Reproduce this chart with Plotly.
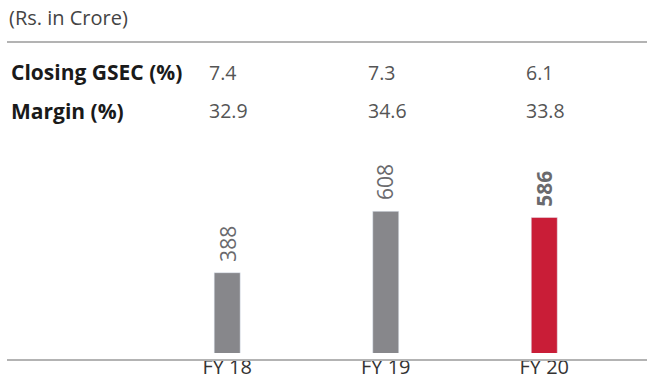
import plotly.graph_objects as go

categories = ["FY 18", "FY 19", "FY 20"]
values = [388, 608, 586]
gsec = ["7.4", "7.3", "6.1"]
margin_pct = ["32.9", "34.6", "33.8"]
row_labels = ["Closing GSEC (%)", "Margin (%)"]
title_text = "(Rs. in Crore)"

bar_colors = ["#87878b", "#87878b", "#c91d37"]
FONT = "Open Sans"

W, H = 647, 381
L, R, T, B = 7, 0, 140, 28
plot_h = H - T - B

def py(pix):
    # pixel y from top -> paper coordinate
    return (H - B - pix) / plot_h

fig = go.Figure()
fig.add_trace(go.Bar(
    x=categories, y=values, marker_color=bar_colors, width=0.164,
    hoverinfo="skip",
))

# value labels above bars
for i, (c, v) in enumerate(zip(categories, values)):
    txt = f"<b>{v}</b>" if i == len(values) - 1 else str(v)
    fig.add_annotation(x=c, y=v, xref="x", yref="y", text=txt, textangle=-90,
                       showarrow=False, yanchor="bottom", yshift=9,
                       font=dict(family=FONT, size=21, color="#6a6a6d"))

# header title
fig.add_annotation(x=0, y=py(18), xref="paper", yref="paper", text=title_text,
                   showarrow=False, xanchor="left", yanchor="middle",
                   font=dict(family=FONT, size=20, color="#444444"))

# table rows
for row_label, row_vals, ypix in [(row_labels[0], gsec, 72), (row_labels[1], margin_pct, 110.5)]:
    fig.add_annotation(x=0, y=py(ypix), xref="paper", yref="paper", xshift=2,
                       text=f"<b>{row_label}</b>", showarrow=False,
                       xanchor="left", yanchor="middle",
                       font=dict(family=FONT, size=21, color="#1a1a1a"))
    for c, val in zip(categories, row_vals):
        fig.add_annotation(x=c, y=py(ypix), xref="x", yref="paper", text=val,
                           showarrow=False, xanchor="left", yanchor="middle",
                           xshift=-20,
                           font=dict(family=FONT, size=19.5, color="#555555"))

# lines
fig.add_shape(type="line", xref="paper", yref="paper", x0=0, x1=1,
              y0=py(42), y1=py(42), line=dict(color="#b3b3b3", width=2))
fig.add_shape(type="line", xref="paper", yref="paper", x0=0, x1=1,
              y0=py(360), y1=py(360), line=dict(color="#b3b3b3", width=2))

fig.update_layout(
    width=W, height=H, margin=dict(l=L, r=R, t=T, b=B),
    plot_bgcolor="white", paper_bgcolor="white", showlegend=False,
    font=dict(family=FONT),
    xaxis=dict(range=[-1.389, 2.648], showgrid=False, zeroline=False,
               showline=False, ticks="", automargin=False,
               tickfont=dict(family=FONT, size=20, color="#333333")),
    yaxis=dict(range=[100, 100 + plot_h / 0.2789], visible=False,
               showgrid=False, zeroline=False, automargin=False),
)

fig.write_html("out.html")
